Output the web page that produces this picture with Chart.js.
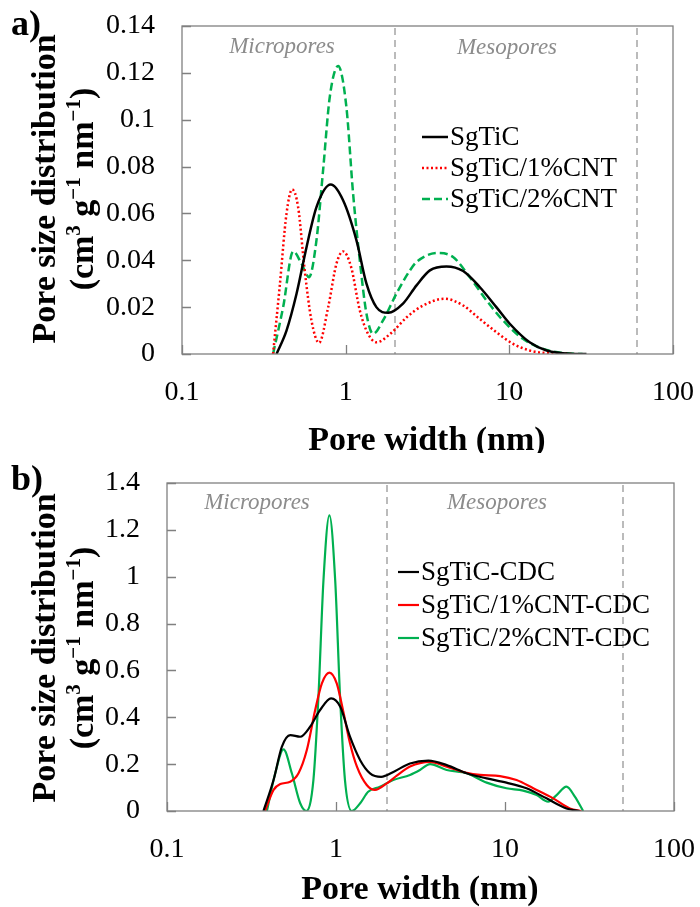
<!DOCTYPE html>
<html>
<head>
<meta charset="utf-8">
<script src="https://cdn.jsdelivr.net/npm/chart.js"></script>
<style>
  body { margin: 0; background: #fff; }
  .panel { position: absolute; left: 0; width: 700px; }
</style>
</head>
<body>
<div class="panel" style="top:0;height:453px"><canvas id="psdA" width="700" height="453"></canvas></div>
<div class="panel" style="top:453px;height:454px"><canvas id="psdB" width="700" height="454"></canvas></div>
<script>
// pore width axis (nm), log scale
const widthTicks = [0.1, 1, 10, 100];

// a) precursor carbides
const sgticW  = [0.378, 0.435, 0.501, 0.577, 0.664, 0.811, 0.964, 1.164, 1.34, 1.54, 1.82, 2.24, 2.71, 3.27, 4.13, 5.22, 6.59, 8.33, 10.06, 13.3, 16.9, 23.4, 29.6];
const sgticV  = [0, 0.010, 0.0257, 0.0457, 0.0628, 0.0723, 0.0656, 0.0485, 0.030, 0.020, 0.0176, 0.0215, 0.0293, 0.0357, 0.0374, 0.0354, 0.0286, 0.0200, 0.0129, 0.0050, 0.0015, 0.0001, 0];
const cnt1W   = [0.36, 0.395, 0.435, 0.471, 0.512, 0.562, 0.618, 0.688, 0.782, 0.879, 0.965, 1.08, 1.22, 1.37, 1.54, 1.9, 2.36, 2.97, 4.03, 5.22, 6.59, 8.33, 10.5, 13.3, 17.7, 25];
const cnt1V   = [0, 0.0286, 0.0599, 0.0702, 0.0628, 0.0357, 0.0143, 0.0048, 0.020, 0.0386, 0.0438, 0.0371, 0.0186, 0.0086, 0.0050, 0.0090, 0.0157, 0.0207, 0.0236, 0.0207, 0.0150, 0.0093, 0.0044, 0.0015, 0.0003, 0];
const cnt2W   = [0.36, 0.415, 0.478, 0.537, 0.597, 0.663, 0.728, 0.800, 0.90, 1.01, 1.11, 1.22, 1.34, 1.47, 1.69, 2.04, 2.46, 2.71, 3.67, 4.53, 5.73, 7.25, 9.16, 12.1, 16.1, 22, 28];
const cnt2V   = [0, 0.020, 0.0438, 0.0386, 0.0328, 0.0485, 0.0785, 0.1098, 0.1229, 0.1055, 0.0685, 0.040, 0.0172, 0.0086, 0.0143, 0.0257, 0.0355, 0.0393, 0.0431, 0.0414, 0.0328, 0.0229, 0.0143, 0.0065, 0.0022, 0.0003, 0];

// b) carbide-derived carbons
const cdcW     = [0.372, 0.427, 0.478, 0.536, 0.614, 0.703, 0.805, 0.935, 1.06, 1.21, 1.39, 1.59, 1.85, 2.2, 2.74, 3.52, 4.52, 5.93, 7.79, 10.2, 13.4, 17.6, 23.1, 27.7];
const cdcV     = [0, 0.132, 0.274, 0.324, 0.317, 0.360, 0.431, 0.481, 0.445, 0.317, 0.217, 0.161, 0.146, 0.168, 0.203, 0.215, 0.196, 0.161, 0.139, 0.121, 0.097, 0.054, 0.011, 0];
const cdc1W    = [0.38, 0.427, 0.468, 0.536, 0.600, 0.672, 0.753, 0.825, 0.914, 1.01, 1.11, 1.21, 1.33, 1.52, 1.70, 2.0, 2.3, 2.74, 3.60, 4.52, 5.93, 7.11, 9.34, 11.7, 14.7, 19.3, 24.2, 28.3];
const cdc1V    = [0, 0.090, 0.115, 0.125, 0.161, 0.260, 0.431, 0.545, 0.591, 0.545, 0.417, 0.289, 0.189, 0.111, 0.090, 0.118, 0.152, 0.190, 0.210, 0.189, 0.163, 0.154, 0.149, 0.132, 0.097, 0.054, 0.011, 0];
const cdc2W    = [0.39, 0.437, 0.489, 0.548, 0.614, 0.666, 0.735, 0.787, 0.843, 0.914, 0.989, 1.057, 1.13, 1.24, 1.39, 1.55, 1.82, 2.18, 2.74, 3.14, 3.60, 4.52, 5.93, 7.79, 10.2, 12.8, 15.4, 18.0, 20.2, 23.1, 25.9, 29.0];
const cdc2V    = [0, 0.161, 0.263, 0.161, 0.033, 0, 0.132, 0.487, 0.985, 1.262, 0.985, 0.487, 0.132, 0, 0.033, 0.082, 0.104, 0.132, 0.154, 0.175, 0.200, 0.175, 0.161, 0.121, 0.097, 0.087, 0.068, 0.040, 0.068, 0.104, 0.061, 0];

const SERIF = "'Liberation Serif', 'Times New Roman', serif";
const pts = (w, v) => w.map((x, i) => ({ x: x, y: v[i] }));

// draws the rotated two-line y title with superscripts
function drawYTitle(ctx, cy) {
  ctx.save();
  ctx.fillStyle = '#000';
  ctx.textBaseline = 'alphabetic';
  ctx.font = 'bold 34px ' + SERIF;
  ctx.translate(55, cy);
  ctx.rotate(-Math.PI / 2);
  ctx.textAlign = 'center';
  ctx.fillText('Pore size distribution', 0, 0);
  ctx.restore();

  const parts = [['(cm', 0], ['3', 1], [' g', 0], ['\u22121', 1], [' nm', 0], ['\u22121', 1], [')', 0]];
  const big = 'bold 34px ' + SERIF, small = 'bold 21px ' + SERIF;
  ctx.save();
  let total = 0;
  parts.forEach(p => { ctx.font = p[1] ? small : big; total += ctx.measureText(p[0]).width; });
  ctx.translate(93, cy);
  ctx.rotate(-Math.PI / 2);
  ctx.fillStyle = '#000';
  ctx.textAlign = 'left';
  let x = -total / 2;
  parts.forEach(p => {
    ctx.font = p[1] ? small : big;
    ctx.fillText(p[0], x, p[1] ? -13 : 0);
    x += ctx.measureText(p[0]).width;
  });
  ctx.restore();
}

const decor = {
  id: 'decor',
  beforeDatasetsDraw(chart, args, o) {
    const { ctx, chartArea: a, scales: { x } } = chart;
    ctx.save();
    ctx.strokeStyle = '#ababab';
    ctx.lineWidth = 1.6;
    ctx.setLineDash([7, 5]);
    o.bounds.forEach(b => {
      const px = Math.round(x.getPixelForValue(b));
      ctx.beginPath();
      ctx.moveTo(px, a.top + 2);
      ctx.lineTo(px, a.bottom);
      ctx.stroke();
    });
    ctx.setLineDash([]);
    ctx.fillStyle = '#8c8c8c';
    ctx.font = 'italic 23px ' + SERIF;
    ctx.textAlign = 'center';
    ctx.textBaseline = 'middle';
    o.regions.forEach(r => ctx.fillText(r.text, r.x, r.y));
    ctx.restore();
  },
  afterDraw(chart, args, o) {
    const { ctx, chartArea: a, scales: { x, y } } = chart;
    ctx.save();
    // plot frame and inward tick marks
    ctx.strokeStyle = '#808080';
    ctx.lineWidth = 1.3;
    ctx.strokeRect(a.left, a.top, a.right - a.left, a.bottom - a.top);
    ctx.beginPath();
    y.ticks.forEach(t => {
      const py = Math.round(y.getPixelForValue(t.value)) + 0.5;
      ctx.moveTo(a.left, py); ctx.lineTo(a.left + 9, py);
    });
    x.ticks.forEach(t => {
      const px = Math.round(x.getPixelForValue(t.value)) + 0.5;
      ctx.moveTo(px, a.bottom); ctx.lineTo(px, a.bottom - 9);
    });
    ctx.stroke();

    // legend
    const L = o.legend;
    chart.data.datasets.forEach((ds, i) => {
      const ly = L.rows[i];
      ctx.strokeStyle = ds.borderColor;
      ctx.lineWidth = ds.borderWidth;
      ctx.setLineDash(ds.borderDash || []);
      ctx.beginPath();
      ctx.moveTo(L.x0, ly); ctx.lineTo(L.x1, ly);
      ctx.stroke();
      ctx.setLineDash([]);
      ctx.fillStyle = '#000';
      ctx.font = '27px ' + SERIF;
      ctx.textAlign = 'left';
      ctx.textBaseline = 'middle';
      ctx.fillText(ds.label, L.x1 + 2, ly + 1);
    });

    // axis titles and panel letter
    ctx.fillStyle = '#000';
    ctx.font = 'bold 34px ' + SERIF;
    ctx.textAlign = 'center';
    ctx.textBaseline = 'middle';
    ctx.fillText('Pore width (nm)', o.xTitle.x, o.xTitle.y);
    ctx.textAlign = 'left';
    ctx.textBaseline = 'alphabetic';
    ctx.font = 'bold 36px ' + SERIF;
    ctx.fillText(o.letter, 11, o.letterY);
    ctx.restore();
    drawYTitle(ctx, o.yTitleY);
  }
};

// invisible tick marks only set the gap between axis and labels
const hiddenTicks = len => ({ display: true, drawOnChartArea: false, drawTicks: true, tickLength: len, color: 'rgba(0,0,0,0)' });

function makeChart(id, datasets, yMax, yStep, box, deco) {
  return new Chart(document.getElementById(id), {
    type: 'line',
    data: { datasets: datasets },
    options: {
      responsive: false,
      animation: false,
      layout: { padding: { top: box.top, right: box.right, left: 0, bottom: 0 } },
      elements: { point: { radius: 0 } },
      plugins: { legend: { display: false }, tooltip: { enabled: false }, decor: deco },
      scales: {
        x: {
          type: 'logarithmic',
          min: 0.1,
          max: 100,
          afterBuildTicks: s => { s.ticks = widthTicks.map(v => ({ value: v })); },
          afterFit: s => { s.height = box.xHeight; },
          grid: hiddenTicks(22),
          border: { display: false },
          ticks: {
            color: '#000',
            font: { family: SERIF, size: 28 },
            padding: 0,
            maxRotation: 0,
            autoSkip: false,
            callback: v => String(v)
          }
        },
        y: {
          min: 0,
          max: yMax,
          afterFit: s => { s.width = box.left; },
          grid: hiddenTicks(27),
          border: { display: false },
          ticks: {
            stepSize: yStep,
            color: '#000',
            font: { family: SERIF, size: 28 },
            padding: 0,
            callback: v => String(+v.toFixed(2))
          }
        }
      }
    },
    plugins: [decor]
  });
}

const lineBase = { fill: false, cubicInterpolationMode: 'monotone', borderCapStyle: 'butt' };

makeChart('psdA', [
  Object.assign({ label: 'SgTiC', data: pts(sgticW, sgticV), borderColor: '#000000', borderWidth: 2.5 }, lineBase),
  Object.assign({ label: 'SgTiC/1%CNT', data: pts(cnt1W, cnt1V), borderColor: '#ff0000', borderWidth: 2.5, borderDash: [2, 2.5] }, lineBase),
  Object.assign({ label: 'SgTiC/2%CNT', data: pts(cnt2W, cnt2V), borderColor: '#00b050', borderWidth: 2.5, borderDash: [8, 4] }, lineBase)
], 0.14, 0.02, { left: 182, top: 26, right: 27, xHeight: 99 }, {
  bounds: [2, 60],
  regions: [{ text: 'Micropores', x: 282, y: 47 }, { text: 'Mesopores', x: 507, y: 48 }],
  legend: { x0: 422, x1: 448, rows: [137, 168, 199] },
  xTitle: { x: 427, y: 441 },
  yTitleY: 189,
  letter: 'a)',
  letterY: 35
});

makeChart('psdB', [
  Object.assign({ label: 'SgTiC-CDC', data: pts(cdcW, cdcV), borderColor: '#000000', borderWidth: 2.2 }, lineBase),
  Object.assign({ label: 'SgTiC/1%CNT-CDC', data: pts(cdc1W, cdc1V), borderColor: '#ff0000', borderWidth: 2.2 }, lineBase),
  Object.assign({ label: 'SgTiC/2%CNT-CDC', data: pts(cdc2W, cdc2V), borderColor: '#00b050', borderWidth: 2.2 }, lineBase)
], 1.4, 0.2, { left: 167, top: 30, right: 26, xHeight: 96 }, {
  bounds: [2, 50],
  regions: [{ text: 'Micropores', x: 257, y: 50 }, { text: 'Mesopores', x: 497, y: 50 }],
  legend: { x0: 398, x1: 419, rows: [119, 152, 185] },
  xTitle: { x: 420, y: 437 },
  yTitleY: 195,
  letter: 'b)',
  letterY: 37
});
</script>
</body>
</html>
